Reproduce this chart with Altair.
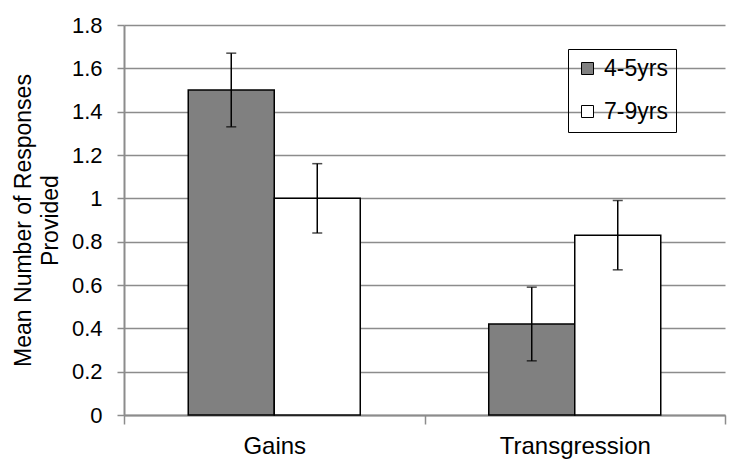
import altair as alt
import pandas as pd

categories = ["Gains", "Gains", "Transgression", "Transgression"]
groups = ["4-5yrs", "7-9yrs", "4-5yrs", "7-9yrs"]
means = [1.5, 1.0, 0.42, 0.83]
errors = [0.17, 0.16, 0.17, 0.16]
y_ticks = [0, 0.2, 0.4, 0.6, 0.8, 1.0, 1.2, 1.4, 1.6, 1.8]
group_order = ["4-5yrs", "7-9yrs"]
cat_order = ["Gains", "Transgression"]

df = pd.DataFrame({
    "category": categories,
    "group": groups,
    "mean": means,
    "lo": [m - e for m, e in zip(means, errors)],
    "hi": [m + e for m, e in zip(means, errors)],
})

FONT = "Liberation Sans"
GRAY = "#8c8c8c"

x = alt.X("category:N", sort=cat_order,
          scale=alt.Scale(paddingInner=0, paddingOuter=0),
          axis=alt.Axis(title=None, labelAngle=0, labelFontSize=24, labelFont=FONT,
                        labelColor="#000000", labelPadding=10, tickBand="extent",
                        tickSize=9, tickColor=GRAY, tickWidth=1.5,
                        domainColor=GRAY, domainWidth=2, grid=False))
xo = alt.XOffset("group:N", sort=group_order,
                 scale=alt.Scale(paddingInner=0, paddingOuter=0.747))
yscale = alt.Scale(domain=[0, 1.8], nice=False)

bars = alt.Chart(df).mark_bar(stroke="black", strokeWidth=1.5).encode(
    x=x, xOffset=xo,
    y=alt.Y("mean:Q", scale=yscale,
            axis=alt.Axis(values=y_ticks, format="~f", title=["Mean Number of Responses", "Provided"],
                          titleFontSize=23, titleFont=FONT, titleFontWeight="normal",
                          titleColor="#000000", titleLineHeight=27, titlePadding=9,
                          labelFontSize=22, labelFont=FONT, labelColor="#000000",
                          labelPadding=15, tickSize=7, tickColor=GRAY, tickWidth=1.5,
                          domainColor=GRAY, domainWidth=2,
                          grid=True, gridColor=GRAY, gridWidth=1.5)),
    color=alt.Color("group:N", sort=group_order,
                    scale=alt.Scale(domain=group_order, range=["#808080", "#ffffff"]),
                    legend=alt.Legend(title=None, orient="none", legendX=444, legendY=24,
                                      strokeColor="black", padding=8,
                                      rowPadding=19, symbolType="square", symbolSize=144,
                                      symbolStrokeColor="black", symbolStrokeWidth=1,
                                      labelFontSize=23, labelFont=FONT, labelColor="#000000",
                                      labelOffset=5)),
)

rules = alt.Chart(df).mark_rule(color="black", strokeWidth=1.5).encode(
    x=x, xOffset=xo, y=alt.Y("lo:Q", scale=yscale), y2="hi:Q")
cap_lo = alt.Chart(df).mark_tick(color="black", size=10, thickness=1.5).encode(
    x=x, xOffset=xo, y=alt.Y("lo:Q", scale=yscale))
cap_hi = alt.Chart(df).mark_tick(color="black", size=10, thickness=1.5).encode(
    x=x, xOffset=xo, y=alt.Y("hi:Q", scale=yscale))

chart = alt.layer(bars, rules, cap_lo, cap_hi).properties(
    width=601, height=390,
    autosize=alt.AutoSizeParams(type="none"),
    padding={"left": 116, "top": 17, "right": 20, "bottom": 50},
    background="white",
).configure_view(stroke=None)

chart.save("out.html", embed_options={"renderer": "svg", "actions": False})
